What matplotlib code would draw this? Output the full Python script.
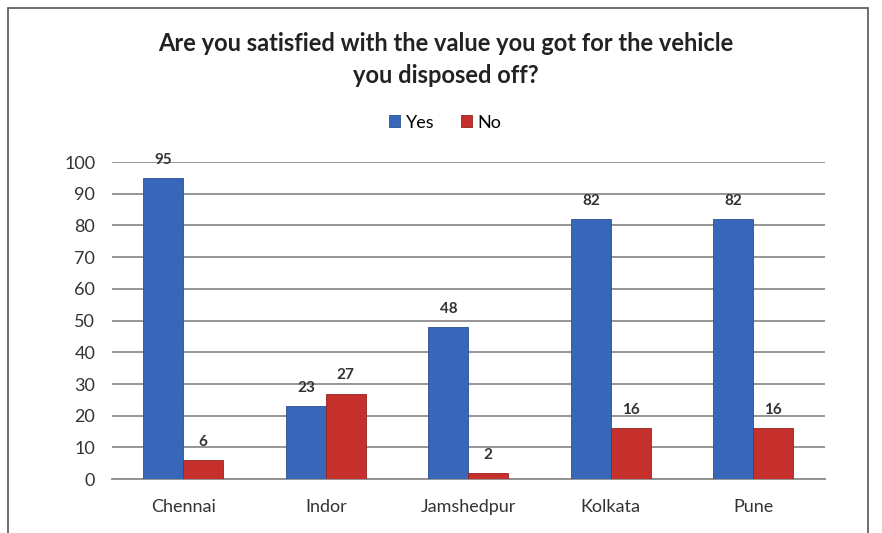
import numpy as np
import matplotlib.pyplot as plt
import matplotlib.patches as patches

cities = ['Chennai', 'Indor', 'Jamshedpur', 'Kolkata', 'Pune']
yes_vals = [95, 23, 48, 82, 82]
no_vals = [6, 27, 2, 16, 16]

plt.rcParams['font.family'] = ['Lato', 'DejaVu Sans']

fig = plt.figure(figsize=(8.82, 5.33), dpi=100)
ax = fig.add_axes([0.127, 0.101, 0.808, 0.595])

x = np.arange(len(cities))
w = 0.28
b1 = ax.bar(x - w/2, yes_vals, w, color='#3867b9', edgecolor='#2a4f94', linewidth=0.6, label='Yes', zorder=3)
b2 = ax.bar(x + w/2, no_vals, w, color='#c5302c', edgecolor='#952220', linewidth=0.6, label='No', zorder=3)

for bars in (b1, b2):
    for r in bars:
        ax.annotate(str(int(r.get_height())), (r.get_x() + r.get_width()/2, r.get_height()),
                    xytext=(0, 8), textcoords='offset points', ha='center', va='bottom',
                    fontsize=11, fontweight='bold', color='#333333')

ax.set_xlim(-0.5, len(cities) - 0.5)
ax.set_ylim(0, 100)
ax.set_yticks(range(0, 101, 10))
ax.set_xticks(x)
ax.set_xticklabels(cities)
ax.yaxis.grid(True, color='#8c8c8c', linewidth=1.3, zorder=0)
ax.set_axisbelow(True)
for s in ['top', 'right', 'left']:
    ax.spines[s].set_visible(False)
ax.spines['bottom'].set_color('#8c8c8c')
ax.spines['bottom'].set_linewidth(1.3)
ax.tick_params(axis='both', length=0, labelsize=13, colors='#333333')
ax.tick_params(axis='x', pad=14)
ax.tick_params(axis='y', pad=12)

fig.text(0.505, 0.888, 'Are you satisfied with the value you got for the vehicle\nyou disposed off?',
         ha='center', va='center', fontsize=17, fontweight='bold', color='#222222', linespacing=1.45)

fig.legend(handles=[b1, b2], loc='center', bbox_to_anchor=(0.505, 0.77), ncol=2, frameon=False,
           fontsize=13, handlelength=0.6, handleheight=0.6, columnspacing=1.5, handletextpad=0.3)

# outer frame
fig.patches.append(patches.Rectangle((0.009, -0.05), 0.975, 1.035, transform=fig.transFigure,
                                     fill=False, edgecolor='#555555', linewidth=1.2))

fig.savefig('out.png', dpi=100)
